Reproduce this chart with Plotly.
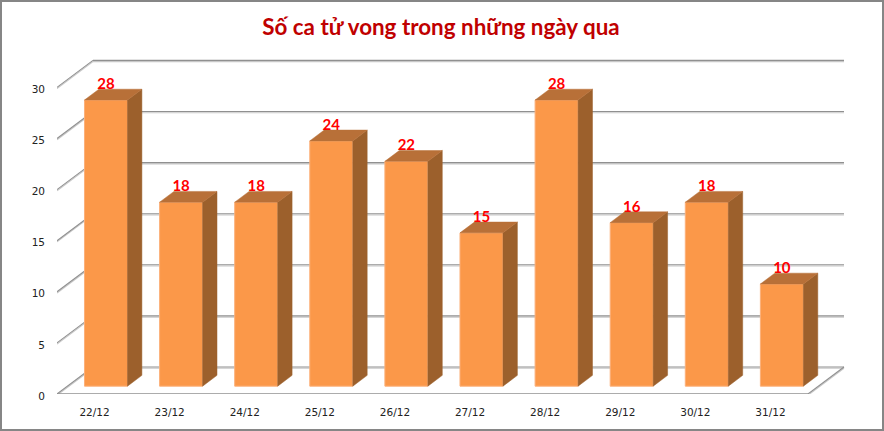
import plotly.graph_objects as go

# data
days = ['22/12', '23/12', '24/12', '25/12', '26/12', '27/12', '28/12', '29/12', '30/12', '31/12']
deaths = [28, 18, 18, 24, 22, 15, 28, 16, 18, 10]
y_ticks = [0, 5, 10, 15, 20, 25, 30]
title = 'Số ca tử vong trong những ngày qua'

W, H = 884, 431
ML, MR, MT, MB = 57, 39, 59, 37
PX_X = 75.1   # pixels per category
PX_Y = 10.22  # pixels per unit of value

# fake 3d: how far one full depth of the floor moves a point, in axis units
DX = 36 / PX_X
DY = 27 / PX_Y
BAR_W = 43 / PX_X
BAR_NUDGE = 1 / PX_X
BAR_FRONT = 0.29
BAR_BACK = 0.69
X0 = -0.5
X1 = len(days) - 0.5

FRONT = '#fb9849'
TOP = '#b87038'
SIDE = '#9c602c'
EDGE = '#fcb07a'


def project(x, v, d):
    return x + d * DX, v + d * DY


def add_line(shapes, p0, p1, color='#909090', width=1.1):
    # line plus the soft shadow just under it
    for dy, col in [(-0.12, '#c8c8c8'), (0, color)]:
        shapes.append(dict(type='line', layer='below', xref='x', yref='y',
                           x0=p0[0], y0=p0[1] + dy, x1=p1[0], y1=p1[1] + dy,
                           line=dict(color=col, width=width)))


shapes = []
for t in y_ticks:
    add_line(shapes, project(X0, t, 0), project(X0, t, 1))
    add_line(shapes, project(X0, t, 1), project(X1, t, 1))
add_line(shapes, project(X0, 0, 0), project(X1, 0, 0), width=1.6)
add_line(shapes, project(X1, 0, 0), project(X1, 0, 1))

# frame round the whole picture
plot_w = W - ML - MR
plot_h = H - MT - MB
shapes.append(dict(type='rect', xref='paper', yref='paper',
                   x0=(1 - ML) / plot_w, x1=(W - 1 - ML) / plot_w,
                   y0=-(MB - 1) / plot_h, y1=(plot_h + MT - 1) / plot_h,
                   line=dict(color='#868686', width=2)))

side_x, side_y, top_x, top_y = [], [], [], []
for i, v in enumerate(deaths):
    left = i + BAR_NUDGE - BAR_W / 2
    right = i + BAR_NUDGE + BAR_W / 2
    side = [project(right, 0, BAR_FRONT), project(right, 0, BAR_BACK),
            project(right, v, BAR_BACK), project(right, v, BAR_FRONT)]
    top = [project(left, v, BAR_FRONT), project(right, v, BAR_FRONT),
           project(right, v, BAR_BACK), project(left, v, BAR_BACK)]
    side_x += [p[0] for p in side] + [side[0][0], None]
    side_y += [p[1] for p in side] + [side[0][1], None]
    top_x += [p[0] for p in top] + [top[0][0], None]
    top_y += [p[1] for p in top] + [top[0][1], None]

fx, fy = project(BAR_NUDGE, 0, BAR_FRONT)

fig = go.Figure()
fig.add_trace(go.Bar(x=[i + fx for i in range(len(days))], y=deaths, base=fy, width=BAR_W,
                     marker=dict(color=FRONT, line=dict(color=EDGE, width=1))))
fig.add_trace(go.Scatter(x=side_x, y=side_y, mode='lines', fill='toself', fillcolor=SIDE,
                         line=dict(color=SIDE, width=0.5)))
fig.add_trace(go.Scatter(x=top_x, y=top_y, mode='lines', fill='toself', fillcolor=TOP,
                         line=dict(color=TOP, width=0.5)))
fig.add_trace(go.Scatter(x=[i + fx for i in range(len(days))], y=[v + fy + 1.45 for v in deaths],
                         mode='text', text=[str(v) for v in deaths], textposition='middle center',
                         textfont=dict(family='Lato', size=15, color='#ff0000', weight='bold'),
                         cliponaxis=False))

fig.update_layout(
    width=W, height=H, margin=dict(l=ML, r=MR, t=MT, b=MB),
    paper_bgcolor='white', plot_bgcolor='white', showlegend=False,
    title=dict(text=title, x=441 / W, xanchor='center', y=1 - 27 / H, yanchor='middle',
               font=dict(family='Lato', size=22.4, color='#c00000', weight='bold')),
    shapes=shapes,
)
fig.update_xaxes(range=[X0, X0 + plot_w / PX_X], tickmode='array',
                 tickvals=list(range(len(days))), ticktext=days, showgrid=False, zeroline=False,
                 showline=False, ticks='', ticklabelstandoff=10,
                 tickfont=dict(family='DejaVu Sans', size=10.5, color='#222222'))
fig.update_yaxes(range=[0, plot_h / PX_Y], tickmode='array', tickvals=y_ticks,
                 showgrid=False, zeroline=False, showline=False, ticks='', ticklabelstandoff=11,
                 ticklabelshift=2, tickfont=dict(family='DejaVu Sans', size=10.5, color='#222222'))

# page margin off so the figure sits at the window corner
fig.write_html("out.html", config=dict(displayModeBar=False),
               post_script="document.body.style.margin='0';document.body.style.overflow='hidden';")
